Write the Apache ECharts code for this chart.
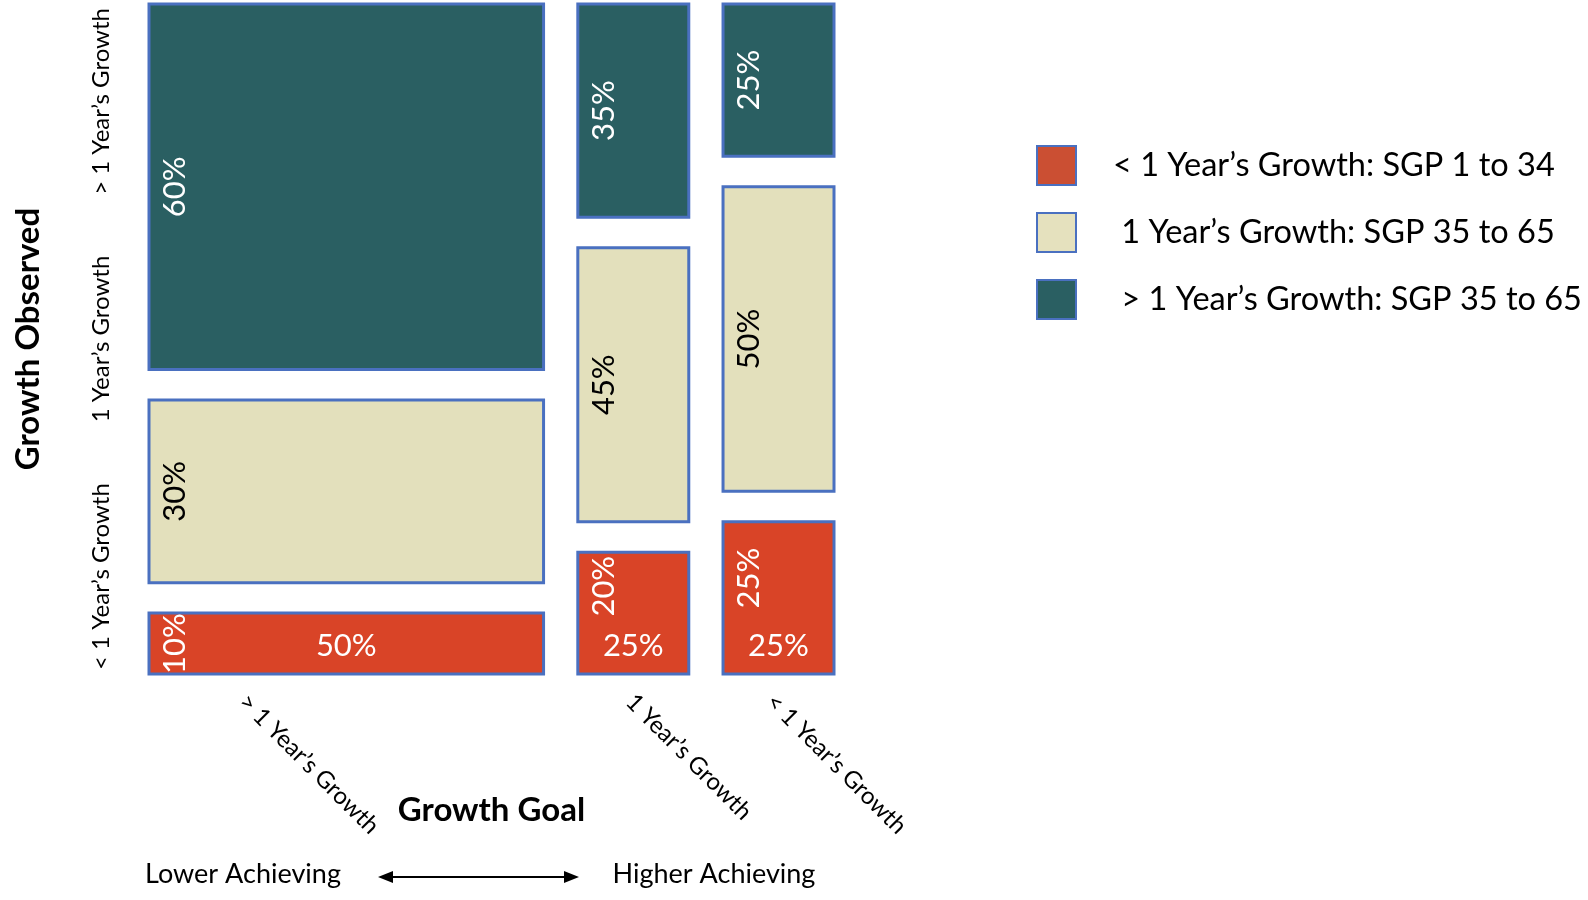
<!DOCTYPE html>
<html>
<head>
<meta charset="utf-8">
<script src="https://cdn.jsdelivr.net/npm/echarts@6/dist/echarts.min.js"></script>
<style>html,body{margin:0;padding:0;background:#fff;}#c{width:1588px;height:900px;}</style>
</head>
<body>
<div id="c"></div>
<script>
// ---- data ----
const goalCategories = ['> 1 Year’s Growth', '1 Year’s Growth', '< 1 Year’s Growth'];
const observedCategories = ['< 1 Year’s Growth', '1 Year’s Growth', '> 1 Year’s Growth'];
const goalShare = [50, 25, 25];          // % of students per growth goal (labels at bottom)
const belowGrowth = [10, 20, 25];        // < 1 year's growth observed, %
const typicalGrowth = [30, 45, 50];      // 1 year's growth observed, %
const aboveGrowth = [60, 35, 25];        // > 1 year's growth observed, %
const seriesNames = ['< 1 Year’s Growth: SGP 1 to 34', ' 1 Year’s Growth: SGP 35 to 65', ' > 1 Year’s Growth: SGP 35 to 65'];

// ---- layout / style ----
const FONT = 'Lato';
const colSpan = [57.6, 16.2, 16.2];   // drawn column widths on the x axis (0..100)
const colGap = 5;
const rowGap = 5;
const fills = ['#D94427', '#E3E0BC', '#2A5F62'];
const legendFills = ['#CB4F33', '#E5E1BE', '#2A5F62'];
const labelColors = ['#fff', '#000', '#fff'];
const borderColor = '#4A70C0';

const stacks = [belowGrowth, typicalGrowth, aboveGrowth];
function buildSeriesData(k) {
  const out = [];
  let xs = 0;
  for (let i = 0; i < goalCategories.length; i++) {
    let ys = 0;
    for (let j = 0; j < k; j++) ys += stacks[j][i] + rowGap;
    out.push([xs, xs + colSpan[i], ys, ys + stacks[k][i], stacks[k][i], goalShare[i]]);
    xs += colSpan[i] + colGap;
  }
  return out;
}

function renderItem(params, api) {
  const k = params.seriesIndex;
  const p0 = api.coord([api.value(0), api.value(2)]);
  const p1 = api.coord([api.value(1), api.value(3)]);
  const left = p0[0], right = p1[0], bottom = p0[1], top = p1[1];
  const h = bottom - top;
  const children = [{
    type: 'rect',
    shape: {x: left, y: top, width: right - left, height: h},
    style: {fill: fills[k], stroke: borderColor, lineWidth: 3}
  }];
  let cy = (top + bottom) / 2;
  if (k === 0 && h > 100) cy = Math.max(top + 34, bottom - 96);
  children.push({
    type: 'text',
    x: left + 26, y: cy, rotation: Math.PI / 2,
    style: {text: api.value(4) + '%', x: 0, y: 0, align: 'center', verticalAlign: 'middle',
            fill: labelColors[k], font: '31px ' + FONT}
  });
  if (k === 0) {
    children.push({
      type: 'text',
      x: (left + right) / 2, y: bottom - 28,
      style: {text: api.value(5) + '%', x: 0, y: 0, align: 'center', verticalAlign: 'middle',
              fill: '#fff', font: '31px ' + FONT}
    });
  }
  return {type: 'group', children: children};
}

const xLabelAt = [13.7, 70.2, 90.7];
const yLabelAt = [16, 55, 94];

const chart = echarts.init(document.getElementById('c'));
chart.setOption({
  animation: false,
  textStyle: {fontFamily: FONT},
  grid: {left: 149, right: 754, top: 4, bottom: 226},
  xAxis: {
    type: 'value', min: 0, max: 100,
    axisLine: {show: false}, axisTick: {show: false}, splitLine: {show: false},
    axisLabel: {
      customValues: xLabelAt, rotate: -45, margin: 24, fontSize: 24, color: '#000', fontFamily: FONT,
      formatter: function (v) { return goalCategories[xLabelAt.indexOf(v)]; }
    },
    name: 'Growth Goal', nameLocation: 'middle', nameGap: 120, nameMoveOverlap: false,
    nameTextStyle: {fontSize: 33, fontWeight: 'bold', color: '#000', fontFamily: FONT}
  },
  yAxis: {
    type: 'value', min: 0, max: 100 + 2 * rowGap,
    axisLine: {show: false}, axisTick: {show: false}, splitLine: {show: false},
    axisLabel: {
      customValues: yLabelAt, rotate: 90, margin: 36, fontSize: 24, color: '#000', fontFamily: FONT,
      formatter: function (v) { return observedCategories[yLabelAt.indexOf(v)]; }
    },
    name: 'Growth Observed', nameLocation: 'middle', nameGap: 104, nameRotate: 90, nameMoveOverlap: false,
    nameTextStyle: {fontSize: 33, fontWeight: 'bold', color: '#000', fontFamily: FONT}
  },
  legend: {
    orient: 'vertical', left: 1036, top: 145, padding: 0, itemWidth: 39, itemHeight: 39, itemGap: 26,
    icon: 'rect', selectedMode: false,
    textStyle: {fontSize: 32.5, color: '#000', fontFamily: FONT, padding: [0, 0, 0, 32]},
    data: seriesNames.map(function (n, i) {
      return {name: n, itemStyle: {color: legendFills[i], borderColor: borderColor, borderWidth: 2}};
    })
  },
  graphic: [
    {type: 'text', x: 243, y: 874, style: {text: 'Lower Achieving', x: 0, y: 0, align: 'center', verticalAlign: 'middle', font: '27px ' + FONT, fill: '#000'}},
    {type: 'text', x: 714, y: 874, style: {text: 'Higher Achieving', x: 0, y: 0, align: 'center', verticalAlign: 'middle', font: '27px ' + FONT, fill: '#000'}},
    {type: 'line', shape: {x1: 390, y1: 877, x2: 567, y2: 877}, style: {stroke: '#000', lineWidth: 2}},
    {type: 'polygon', shape: {points: [[378, 877], [393, 871], [393, 883]]}, style: {fill: '#000'}},
    {type: 'polygon', shape: {points: [[579, 877], [564, 871], [564, 883]]}, style: {fill: '#000'}}
  ],
  series: seriesNames.map(function (n, k) {
    return {
      name: n, type: 'custom', renderItem: renderItem,
      itemStyle: {color: fills[k], borderColor: borderColor, borderWidth: 2},
      encode: {x: [0, 1], y: [2, 3]},
      data: buildSeriesData(k)
    };
  })
});
</script>
</body>
</html>
